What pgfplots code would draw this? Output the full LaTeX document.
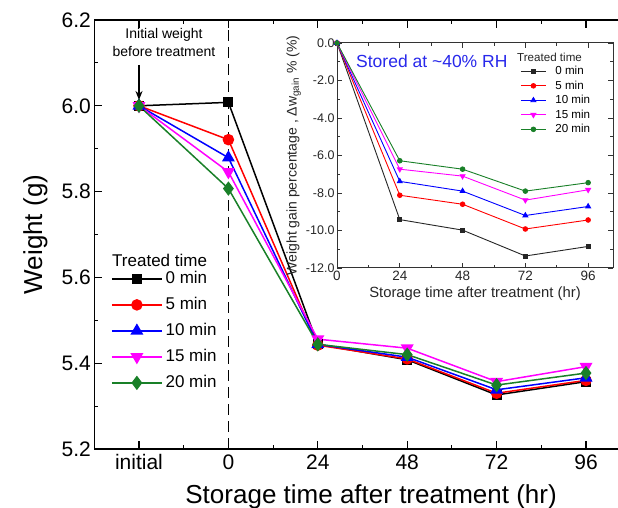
\documentclass[border=0pt]{standalone}
\usepackage{pgfplots}
\pgfplotsset{compat=1.18}
\usepackage{fontspec}
\setmainfont{Liberation Sans}
\usetikzlibrary{arrows.meta}
\definecolor{cgreen}{RGB}{25,128,40}
\definecolor{cmag}{RGB}{255,0,255}
\definecolor{cblue}{RGB}{0,0,255}
\definecolor{cred}{RGB}{255,0,0}
\definecolor{txtblue}{RGB}{40,40,235}
\begin{document}
\begin{tikzpicture}[x=1pt,y=1pt]
\pgfplotsset{every axis/.append style={/pgf/number format/assume math mode=true}}
% ---------------- main axis ----------------
\begin{axis}[
  at={(94.3pt,59pt)}, anchor=south west,
  scale only axis, width=536.4pt, height=429pt,
  xmin=-0.5, xmax=5.5, ymin=5.2, ymax=6.2,
  xtick={0,1,2,3,4,5}, xticklabels={initial,0,24,48,72,96},
  minor x tick num=1,
  ytick={5.2,5.4,5.6,5.8,6.0,6.2},
  minor y tick num=1,
  tick align=inside,
  major tick length=8pt, minor tick length=4pt,
  every tick/.style={black, line width=1.1pt},
  axis line style={line width=1.4pt},
  yticklabel style={/pgf/number format/.cd, fixed, fixed zerofill, precision=1, /tikz/.cd},
  ticklabel style={font=\fontsize{21}{21}\selectfont},
  xticklabel style={yshift=-2pt},
  xlabel={Storage time after treatment (hr)},
  ylabel={Weight (g)},
  label style={font=\fontsize{26}{26}\selectfont},
  xlabel style={at={(axis description cs:0.516,-0.128)}, anchor=base},
  ylabel style={at={(axis description cs:-0.11,0.5)}, anchor=center},
  legend image code/.code={\draw[mark repeat=2,mark phase=2] plot coordinates {(0pt,0pt) (25pt,0pt) (50pt,0pt)};},
  legend style={at={(axis description cs:0.031,0.418)}, anchor=north west, draw=none, fill=none,
     font=\fontsize{17}{17}\selectfont, inner xsep=0pt, inner ysep=0pt, row sep=8pt, column sep=1pt,
     nodes={inner sep=2pt, text height=12pt, text depth=2pt}, cells={anchor=west}},
  legend cell align=left,
]
\draw[black, line width=1.8pt, dash pattern=on 11pt off 6pt] (axis cs:1,5.2) -- (axis cs:1,6.2);
\addplot[black, line width=1.5pt, mark=square*, mark size=4.3pt] coordinates {(0,6.000) (1,6.008) (2,5.444) (3,5.408) (4,5.326) (5,5.357)};
\addlegendentry{0 min}
\addplot[cred, line width=1.5pt, mark=*, mark size=5pt] coordinates {(0,6.000) (1,5.921) (2,5.442) (3,5.410) (4,5.330) (5,5.360)};
\addlegendentry{5 min}
\addplot[cblue, line width=1.5pt, mark=triangle*, mark size=6pt] coordinates {(0,6.000) (1,5.879) (2,5.444) (3,5.414) (4,5.338) (5,5.366)};
\addlegendentry{10 min}
\addplot[cmag, line width=1.5pt, mark=triangle*, mark options={rotate=180}, mark size=6pt] coordinates {(0,6.000) (1,5.846) (2,5.456) (3,5.435) (4,5.357) (5,5.392)};
\addlegendentry{15 min}
\addplot[cgreen, line width=1.5pt, mark=diamond*, mark size=6pt] coordinates {(0,6.000) (1,5.807) (2,5.444) (3,5.420) (4,5.349) (5,5.377)};
\addlegendentry{20 min}
\end{axis}
% ---------------- inset axis ----------------
\begin{axis}[
  at={(337pt,240pt)}, anchor=south west,
  scale only axis, width=276pt, height=225pt,
  axis background/.style={fill=white},
  xmin=0, xmax=105.5, ymin=-12, ymax=0,
  xtick={0,24,48,72,96}, minor x tick num=1,
  ytick={-12,-10,-8,-6,-4,-2,0}, minor y tick num=1,
  tick align=inside,
  major tick length=5pt, minor tick length=3pt,
  every tick/.style={black!80, line width=0.8pt},
  axis line style={black!80, line width=1pt},
  yticklabel style={/pgf/number format/.cd, fixed, fixed zerofill, precision=1, /tikz/.cd, xshift=1pt},
  ticklabel style={font=\fontsize{12.5}{12.5}\selectfont, text=black!85},
  xticklabel style={font=\fontsize{13.5}{13.5}\selectfont},
  xlabel={Storage time after treatment (hr)},
  ylabel={Weight gain percentage , Δw\textsubscript{gain} \% (\%)},
  label style={font=\fontsize{14.8}{14.8}\selectfont, text=black!85},
  xlabel style={at={(axis description cs:0.5,-0.133)}, anchor=base},
  ylabel style={at={(axis description cs:-0.157,0.5)}, anchor=center, font=\fontsize{14}{14}\selectfont},
  legend image code/.code={\draw[mark repeat=2,mark phase=2] plot coordinates {(0pt,0pt) (12.5pt,0pt) (25pt,0pt)};},
  legend style={at={(axis description cs:0.664,0.905)}, anchor=north west, draw=none, fill=none,
     font=\fontsize{11.6}{11.6}\selectfont, inner xsep=0pt, inner ysep=0pt, row sep=1pt, column sep=7pt,
     nodes={inner sep=2pt, text height=8pt, text depth=1.5pt}, cells={anchor=west}},
  legend cell align=left,
]
\addplot[black!85, line width=0.9pt, mark=square*, mark size=2pt] coordinates {(0,0) (24,-9.42) (48,-9.98) (72,-11.36) (96,-10.85)};
\addlegendentry{0 min}
\addplot[cred, line width=0.9pt, mark=*, mark size=2.3pt] coordinates {(0,0) (24,-8.12) (48,-8.6) (72,-9.92) (96,-9.44)};
\addlegendentry{5 min}
\addplot[cblue, line width=0.9pt, mark=triangle*, mark size=2.8pt] coordinates {(0,0) (24,-7.38) (48,-7.9) (72,-9.2) (96,-8.72)};
\addlegendentry{10 min}
\addplot[cmag, line width=0.9pt, mark=triangle*, mark options={rotate=180}, mark size=2.8pt] coordinates {(0,0) (24,-6.73) (48,-7.1) (72,-8.38) (96,-7.83)};
\addlegendentry{15 min}
\addplot[cgreen, line width=0.9pt, mark=*, mark size=2.3pt] coordinates {(0,0) (24,-6.28) (48,-6.73) (72,-7.9) (96,-7.45)};
\addlegendentry{20 min}
\end{axis}
% ---------------- annotations ----------------
\node[anchor=west, font=\fontsize{17}{17}\selectfont, inner sep=0pt] at (112,248) {Treated time};
\node[anchor=west, font=\fontsize{11.6}{11.6}\selectfont, text=black!85, inner sep=0pt] at (517,451) {Treated time};
\node[anchor=west, font=\fontsize{17.5}{17.5}\selectfont, text=txtblue, inner sep=0pt] at (356,447) {Stored at \textasciitilde 40\% RH};
\node[align=center, font=\fontsize{14}{18}\selectfont, inner sep=0pt] at (164,465) {Initial weight\\before treatment};
\draw[-{Stealth[length=9pt,width=7pt]}, line width=1.5pt] (139,443) -- (139,408);
\pgfresetboundingbox
\useasboundingbox (0,0) rectangle (618,508);
\end{tikzpicture}
\end{document}
